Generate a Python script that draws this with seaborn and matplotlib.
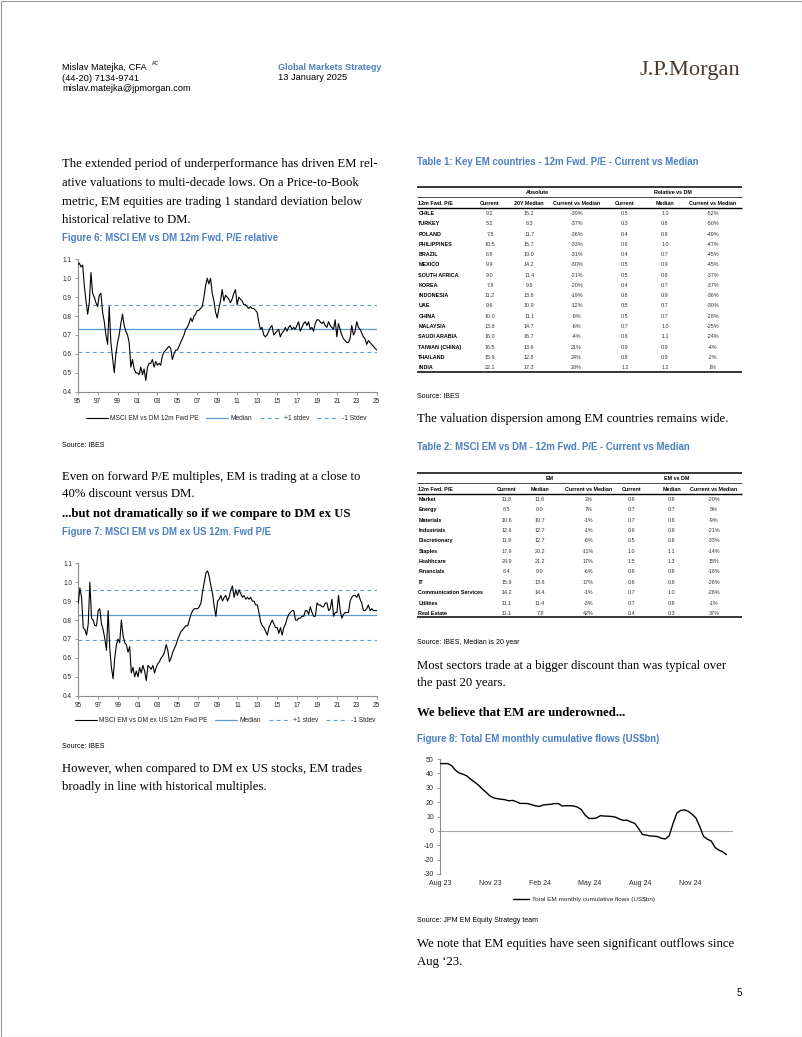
import numpy as np
import pandas as pd
import matplotlib
matplotlib.use("Agg")
import matplotlib.pyplot as plt
from matplotlib.lines import Line2D
from matplotlib.patches import Rectangle
import seaborn as sns

sns.set_style("ticks")
SANS = "Liberation Sans"
SERIF = "Liberation Serif"
plt.rcParams["font.family"] = [SANS, "DejaVu Sans"]
plt.rcParams["axes.unicode_minus"] = False

W, H = 802, 1037
TITLE_BLUE = "#4a7fc0"
LINE_BLUE = "#5b9bd5"
GREY = "#8c8c8c"

# ---- Figure 6: MSCI EM vs DM 12m Fwd P/E relative (bi-monthly, Jan-95 .. Jan-25)
fig6_pe = [
    1.07, 1.08, 1.06, 1.07, 0.96, 0.88,
    0.81, 0.87, 1.03, 0.92, 0.90, 0.87,
    0.85, 0.91, 0.92, 0.82, 0.77, 0.70,
    0.65, 0.85, 0.66, 0.58, 0.50, 0.60,
    0.66, 0.70, 0.76, 0.81, 0.75, 0.72,
    0.70, 0.66, 0.53, 0.57, 0.52, 0.50,
    0.50, 0.49, 0.53, 0.49, 0.52, 0.46,
    0.53, 0.55, 0.55, 0.57, 0.53, 0.56,
    0.54, 0.55, 0.54, 0.59, 0.61, 0.62,
    0.63, 0.64, 0.63, 0.57, 0.60, 0.62,
    0.62, 0.64, 0.66, 0.68, 0.70, 0.73,
    0.74, 0.76, 0.79, 0.77, 0.80, 0.81,
    0.83, 0.83, 0.84, 0.85, 0.90, 0.96,
    1.00, 0.97, 1.00, 0.92, 0.88, 0.82,
    0.79, 0.84, 0.88, 0.94, 0.88, 0.91,
    0.90, 0.89, 0.87, 0.89, 0.92, 0.94,
    0.86, 0.90, 0.89, 0.88, 0.86, 0.86,
    0.85, 0.84, 0.85, 0.84, 0.84, 0.83,
    0.82, 0.77, 0.73, 0.74, 0.70, 0.69,
    0.70, 0.72, 0.74, 0.75, 0.70, 0.71,
    0.72, 0.73, 0.69, 0.71, 0.72, 0.74,
    0.72, 0.74, 0.75, 0.73, 0.74, 0.73,
    0.75, 0.77, 0.72, 0.74, 0.76, 0.77,
    0.75, 0.77, 0.73, 0.74, 0.72, 0.76,
    0.78, 0.78, 0.77, 0.76, 0.77, 0.75,
    0.74, 0.77, 0.75, 0.74, 0.73, 0.78,
    0.69, 0.76, 0.73, 0.70, 0.68, 0.67,
    0.66, 0.66, 0.68, 0.75, 0.70, 0.72,
    0.77, 0.74, 0.73, 0.71, 0.69, 0.68,
    0.65, 0.67, 0.66, 0.65, 0.64, 0.63,
    0.62,
]
fig6_median = 0.733
fig6_stdev = 0.124

# ---- Figure 7: MSCI EM vs DM ex US 12m Fwd P/E (bi-monthly, Jan-95 .. Jan-25)
fig7_pe = [
    0.89, 0.97, 0.92, 0.76, 0.75, 0.72,
    0.78, 1.00, 0.81, 0.80, 0.77, 0.77,
    0.85, 0.86, 0.78, 0.75, 0.70, 0.64,
    0.85, 0.65, 0.55, 0.49, 0.60, 0.67,
    0.70, 0.68, 0.80, 0.72, 0.68, 0.67,
    0.63, 0.66, 0.52, 0.55, 0.50, 0.53,
    0.50, 0.55, 0.52, 0.56, 0.53, 0.48,
    0.56, 0.55, 0.54, 0.56, 0.52, 0.55,
    0.57, 0.58, 0.60, 0.61, 0.63, 0.67,
    0.64, 0.58, 0.60, 0.63, 0.65, 0.67,
    0.70, 0.72, 0.74, 0.75, 0.76, 0.77,
    0.77, 0.80, 0.83, 0.85, 0.86, 0.86,
    0.86, 0.87, 0.89, 0.95, 1.00, 1.05,
    1.06, 1.03, 0.98, 0.94, 0.87, 0.82,
    0.90, 0.91, 0.93, 0.90, 0.92, 0.93,
    0.90, 0.92, 0.96, 0.98, 0.92, 0.96,
    0.93, 0.96, 0.94, 0.92, 0.93, 0.91,
    0.92, 0.91, 0.92, 0.90, 0.90, 0.88,
    0.88, 0.84, 0.79, 0.77, 0.76, 0.74,
    0.72, 0.76, 0.78, 0.80, 0.78, 0.76,
    0.76, 0.73, 0.76, 0.72, 0.76, 0.78,
    0.81, 0.83, 0.84, 0.85, 0.85, 0.80,
    0.80, 0.81, 0.81, 0.82, 0.82, 0.85,
    0.85, 0.83, 0.87, 0.84, 0.82, 0.82,
    0.89, 0.88, 0.88, 0.87, 0.87, 0.89,
    0.89, 0.85, 0.86, 0.91, 0.82, 0.84,
    0.84, 0.93, 0.85, 0.81, 0.83, 0.84,
    0.84, 0.84, 0.90, 0.92, 0.93, 0.93,
    0.92, 0.94, 0.91, 0.89, 0.85, 0.85,
    0.86, 0.88, 0.85, 0.86, 0.85, 0.85,
    0.85,
]
fig7_median = 0.827
fig7_stdev = 0.130

# ---- Figure 8: Total EM monthly cumulative flows, US$bn (weekly from Aug-23)
fig8_flows = [
    46.8, 46.8, 46.8, 45.5, 42.3, 40.3, 39.4, 38.3, 36.0, 34.0,
    32.0, 29.3, 27.0, 24.5, 23.0, 22.4, 22.0, 21.7, 20.9, 21.2,
    20.3, 19.1, 19.1, 19.0, 18.2, 17.4, 17.0, 18.0, 18.3, 18.5,
    19.0, 19.0, 17.3, 17.5, 17.5, 17.3, 16.5, 14.8, 11.0, 8.7,
    8.6, 9.0, 10.6, 10.3, 10.2, 10.0, 9.5, 8.2, 7.3, 7.4,
    6.2, 5.2, 1.6, -2.4, -3.0, -3.5, -3.7, -4.0, -5.2, -5.6,
    -3.5, 5.0, 12.3, 14.2, 14.6, 13.6, 11.5, 9.0, 3.0, -3.8,
    -5.8, -7.0, -11.5, -13.4, -14.5, -16.5,
]

# ---- Table 1: key EM countries
t1_country = ["CHILE", "TURKEY", "POLAND", "PHILIPPINES", "BRAZIL", "MEXICO",
              "SOUTH AFRICA", "KOREA", "INDONESIA", "UAE", "CHINA", "MALAYSIA",
              "SAUDI ARABIA", "TAIWAN (CHINA)", "THAILAND", "INDIA"]
t1_current = [9.2, 5.2, 7.5, 10.5, 6.9, 9.9, 9.0, 7.8, 11.2, 9.6, 10.0, 13.8, 16.0, 16.5, 15.9, 22.1]
t1_median = [15.2, 8.3, 11.7, 15.7, 10.0, 14.2, 11.4, 9.8, 13.8, 10.9, 11.1, 14.7, 16.7, 13.6, 12.8, 17.3]
t1_vs = ["-39%", "-37%", "-36%", "-33%", "-31%", "-30%", "-21%", "-20%", "-19%", "-12%",
         "-9%", "-6%", "-4%", "21%", "24%", "28%"]
t1_rel_current = [0.5, 0.3, 0.4, 0.6, 0.4, 0.5, 0.5, 0.4, 0.6, 0.5, 0.5, 0.7, 0.8, 0.9, 0.8, 1.2]
t1_rel_median = [1.0, 0.6, 0.8, 1.0, 0.7, 0.9, 0.8, 0.7, 0.9, 0.7, 0.7, 1.0, 1.1, 0.9, 0.9, 1.2]
t1_rel_vs = ["-52%", "-50%", "-49%", "-47%", "-45%", "-45%", "-37%", "-37%", "-36%", "-30%",
             "-28%", "-25%", "-24%", "-4%", "-2%", "1%"]

# ---- Table 2: MSCI EM vs DM sectors
t2_sector = ["Market", "Energy", "Materials", "Industrials", "Discretionary", "Staples",
             "Healthcare", "Financials", "IT", "Communication Services", "Utilities", "Real Estate"]
t2_current = [11.8, 8.5, 10.6, 12.6, 11.9, 17.9, 24.9, 8.4, 15.9, 14.2, 11.1, 11.1]
t2_median = [11.6, 8.0, 10.7, 12.7, 12.7, 20.2, 21.2, 9.0, 13.6, 14.4, 11.4, 7.8]
t2_vs = ["2%", "7%", "-1%", "-1%", "-6%", "-11%", "17%", "-6%", "17%", "-1%", "-3%", "42%"]
t2_rel_current = [0.6, 0.7, 0.7, 0.6, 0.5, 1.0, 1.5, 0.6, 0.6, 0.7, 0.7, 0.4]
t2_rel_median = [0.8, 0.7, 0.8, 0.8, 0.8, 1.1, 1.3, 0.8, 0.8, 1.0, 0.8, 0.3]
t2_rel_vs = ["-20%", "6%", "-9%", "-21%", "-33%", "-14%", "15%", "-18%", "-26%", "-26%", "-1%", "37%"]

fig = plt.figure(figsize=(W / 100, H / 100), dpi=100)
page = fig.add_axes([0, 0, 1, 1])
page.set_xlim(0, W)
page.set_ylim(H, 0)
page.axis("off")
page.add_patch(Rectangle((0.5, 0.5), W - 1, H - 1, fill=False, edgecolor="#9a9a9a", lw=0.8))


def txt(x, y, s, size, family=SANS, weight="normal", color="black", ha="left", k=0.32):
    # y is the visual middle of the line in page pixels
    page.text(x, y + k * size * 100 / 72, s, fontsize=size, family=[family, "DejaVu Sans"],
              fontweight=weight, color=color, ha=ha, va="baseline")


def px_axes(left, top, right, bottom):
    return fig.add_axes([left / W, 1 - bottom / H, (right - left) / W, (bottom - top) / H])


# header
txt(62, 67, "Mislav Matejka, CFA", 6.7)
txt(152, 63, "AC", 3.8)
txt(62, 78, "(44-20) 7134-9741", 6.7)
txt(62, 88, "mislav.matejka@jpmorgan.com", 6.7)
txt(278, 67, "Global Markets Strategy", 6.5, weight="bold", color=TITLE_BLUE)
txt(278, 77, "13 January 2025", 6.7)
txt(640, 68, "J.P.Morgan", 16.2, family=SERIF, color="#4a3b30", k=0.3)

BODY = 9.15
# left column text
txt(62, 163, "The extended period of underperformance has driven EM rel-", BODY, SERIF)
txt(62, 182, "ative valuations to multi-decade lows. On a Price-to-Book", BODY, SERIF)
txt(62, 201, "metric, EM equities are trading 1 standard deviation below", BODY, SERIF)
txt(62, 219, "historical relative to DM.", BODY, SERIF)
txt(62, 238, "Figure 6: MSCI EM vs DM 12m Fwd. P/E relative", 6.9, weight="bold", color=TITLE_BLUE)
txt(62, 445, "Source: IBES", 5.0)
txt(62, 476, "Even on forward P/E multiples, EM is trading at a close to", BODY, SERIF)
txt(62, 493, "40% discount versus DM.", BODY, SERIF)
txt(62, 513, "...but not dramatically so if we compare to DM ex US", BODY, SERIF, weight="bold")
txt(62, 532, "Figure 7: MSCI EM vs DM ex US 12m. Fwd P/E", 6.9, weight="bold", color=TITLE_BLUE)
txt(62, 746, "Source: IBES", 5.0)
txt(62, 768, "However, when compared to DM ex US stocks, EM trades", BODY, SERIF)
txt(62, 786, "broadly in line with historical multiples.", BODY, SERIF)

# right column text
RX = 417
txt(RX, 162, "Table 1: Key EM countries - 12m Fwd. P/E - Current vs Median", 6.9, weight="bold", color=TITLE_BLUE)
txt(RX, 396, "Source: IBES", 5.0)
txt(RX, 418, "The valuation dispersion among EM countries remains wide.", BODY, SERIF)
txt(RX, 447, "Table 2: MSCI EM vs DM - 12m Fwd. P/E - Current vs Median", 6.9, weight="bold", color=TITLE_BLUE)
txt(RX, 642, "Source: IBES, Median is 20 year", 5.0)
txt(RX, 665, "Most sectors trade at a bigger discount than was typical over", BODY, SERIF)
txt(RX, 682, "the past 20 years.", BODY, SERIF)
txt(RX, 712, "We believe that EM are underowned...", BODY, SERIF, weight="bold")
txt(RX, 739, "Figure 8: Total EM monthly cumulative flows (US$bn)", 6.9, weight="bold", color=TITLE_BLUE)
txt(RX, 920, "Source: JPM EM Equity Strategy team", 5.0)
txt(RX, 943, "We note that EM equities have seen significant outflows since", BODY, SERIF)
txt(RX, 961, "Aug \u201823.", BODY, SERIF)
txt(739, 993, "5", 7.0, ha="center")


# ---- P/E line charts
def pe_chart(rect, values, median, stdev, label, leg_xy):
    ax = px_axes(*rect)
    ax.set_facecolor("none")
    dates = pd.date_range("1995-01-01", periods=len(values), freq="2MS")
    ax.axhline(median, color=LINE_BLUE, lw=0.9, zorder=1)
    ax.axhline(median + stdev, color=LINE_BLUE, lw=0.8, ls=(0, (3.5, 3)), zorder=1)
    ax.axhline(median - stdev, color=LINE_BLUE, lw=0.8, ls=(0, (3.5, 3)), zorder=1)
    sns.lineplot(x=dates, y=values, ax=ax, color="black", lw=0.8, zorder=3)
    ax.set_xlim(dates[0], dates[-1])
    ax.set_ylim(0.4, 1.1)
    ax.set_yticks(np.arange(0.4, 1.101, 0.1))
    ax.set_yticklabels([f"{v:.1f}" for v in np.arange(0.4, 1.101, 0.1)])
    ticks = pd.date_range("1995-01-01", "2025-01-01", freq="24MS")
    ax.set_xticks(ticks)
    ax.set_xticklabels([d.strftime("%y") for d in ticks])
    ax.set_xlabel("")
    ax.set_ylabel("")
    for s in ["top", "right"]:
        ax.spines[s].set_visible(False)
    for s in ["left", "bottom"]:
        ax.spines[s].set_color(GREY)
        ax.spines[s].set_linewidth(0.8)
    ax.tick_params(axis="both", labelsize=4.7, length=2, width=0.6, color=GREY, pad=2.5)
    handles = [Line2D([], [], color="black", lw=0.8),
               Line2D([], [], color=LINE_BLUE, lw=0.9),
               Line2D([], [], color=LINE_BLUE, lw=0.8, ls=(0, (3.5, 3))),
               Line2D([], [], color=LINE_BLUE, lw=0.8, ls=(0, (3.5, 3)))]
    fig.legend(handles, [label, "Median", "+1 stdev", "-1 Stdev"], loc="center",
               bbox_to_anchor=(leg_xy[0] / W, 1 - leg_xy[1] / H), ncol=4, frameon=False,
               fontsize=4.8, handlelength=3.3, columnspacing=1.1, handletextpad=0.4)
    return ax


pe_chart((77.7, 259.3, 376.7, 391.7), fig6_pe, fig6_median, fig6_stdev,
         "MSCI EM vs DM 12m Fwd PE", (226, 419))
pe_chart((78.3, 563.3, 376.7, 695.7), fig7_pe, fig7_median, fig7_stdev,
         "MSCI EM vs DM ex US 12m Fwd PE", (225, 721))

# ---- Figure 8 flows
ax8 = px_axes(440, 759, 733, 874)
ax8.set_facecolor("none")
dates8 = pd.date_range("2023-08-01", periods=len(fig8_flows), freq="7D")
ax8.axhline(0, color="#a6a6a6", lw=0.8, zorder=1)
sns.lineplot(x=dates8, y=fig8_flows, ax=ax8, color="black", lw=1.0, zorder=3)
ax8.set_ylim(-30, 50)
ax8.set_yticks(range(-30, 51, 10))
ax8.set_xlim(pd.Timestamp("2023-08-01"), pd.Timestamp("2025-01-19"))
xt8 = pd.date_range("2023-08-01", periods=6, freq="3MS")
ax8.set_xticks(xt8)
ax8.set_xticklabels([d.strftime("%b %y") for d in xt8])
ax8.set_xlabel("")
ax8.set_ylabel("")
for s in ["top", "right", "bottom"]:
    ax8.spines[s].set_visible(False)
ax8.spines["left"].set_color(GREY)
ax8.spines["left"].set_linewidth(0.8)
ax8.tick_params(axis="y", labelsize=5.0, length=2, width=0.6, color=GREY, pad=2.5)
ax8.tick_params(axis="x", labelsize=5.0, length=0, pad=4)
fig.legend([Line2D([], [], color="black", lw=1.0)], ["Total EM monthly cumulative flows (US$bn)"],
           loc="center", bbox_to_anchor=(584 / W, 1 - 899 / H), frameon=False, fontsize=4.6,
           handlelength=2.5, handletextpad=0.5)


# ---- tables
TS = 3.9
VAL = "#333333"


def table(top, grp_y, sub_y, hdr_y, row0, step, bottom, label_hdr, groups, group_x, col_x, cols_hdr,
          labels, columns):
    page.hlines(top, 416.7, 741.7, color="black", lw=1.1)
    page.hlines(sub_y, 416.7, 741.7, color="black", lw=0.5)
    page.hlines(hdr_y + 5, 416.7, 741.7, color="black", lw=1.0)
    page.hlines(bottom, 416.7, 741.7, color="black", lw=1.1)
    for g, gx in zip(groups, group_x):
        txt(gx, grp_y, g, TS, weight="bold", ha="center")
    txt(418.3, hdr_y, label_hdr, TS, weight="bold")
    for h, cx in zip(cols_hdr, col_x):
        txt(cx, hdr_y, h, TS, weight="bold", ha="center")
    for i, lab in enumerate(labels):
        y = row0 + i * step
        txt(418.3, y, lab, TS, weight="bold")
        for col, cx in zip(columns, col_x):
            v = col[i]
            s = v if isinstance(v, str) else f"{v:.1f}"
            txt(cx, y, s, TS, color=VAL, ha="center")


table(187.3, 192.7, 197.3, 203.3, 213.3, 10.27, 371.7, "12m Fwd. P/E",
      ["Absolute", "Relative vs DM"], [537.7, 673.3],
      [490, 529.3, 576.7, 625, 665, 712.7],
      ["Current", "20Y Median", "Current vs Median", "Current", "Median", "Current vs Median"],
      t1_country, [t1_current, t1_median, t1_vs, t1_rel_current, t1_rel_median, t1_rel_vs])

table(472.7, 478.3, 483.3, 489.0, 499.0, 10.39, 617.3, "12m Fwd. P/E",
      ["EM", "EM vs DM"], [550, 676.7],
      [506.7, 540, 588.3, 631.7, 671.7, 714],
      ["Current", "Median", "Current vs Median", "Current", "Median", "Current vs Median"],
      t2_sector, [t2_current, t2_median, t2_vs, t2_rel_current, t2_rel_median, t2_rel_vs])

fig.savefig("out.png", dpi=100)
